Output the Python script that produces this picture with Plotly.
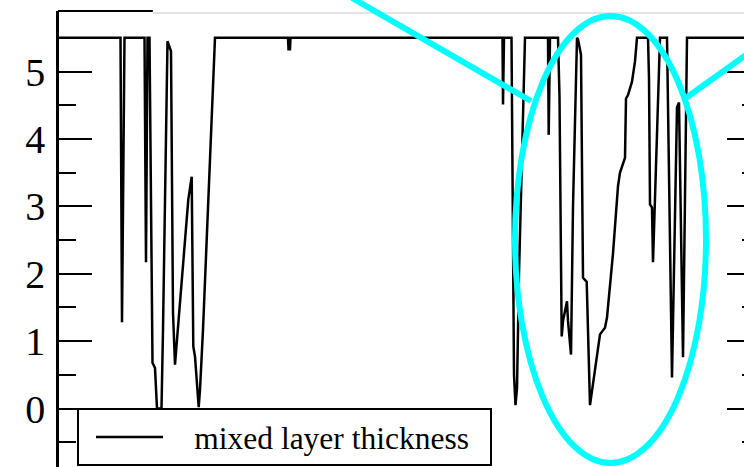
import plotly.graph_objects as go

# Mixed layer thickness record: time index vs. thickness (capped at the 5.5 limit)
time_idx = [0, 61.5, 63, 65.5, 85.5, 87, 88.5, 90.5, 93.5, 96,
            98, 102.5, 104, 108.5, 112, 114, 116, 118, 129.3, 132.7,
            134.3, 136, 139, 139.7, 141, 144, 156, 229, 229.5, 231,
            231.5, 443.5, 444, 445, 452.5, 454, 455, 456.5, 458, 460,
            463, 466, 489, 489.7, 491, 499, 500.5, 502.7, 504, 508,
            509, 512, 514, 518, 519, 522, 524, 527.7, 531, 537.7,
            541, 546, 548, 554, 559, 561, 563, 566, 567, 569,
            573, 576, 578, 589, 590, 591, 593, 594, 601, 608,
            613, 618, 620, 624, 628, 685]
thickness = [5.5, 5.5, 1.28, 5.5, 5.5, 2.17, 5.5, 5.5, 0.68, 0.6,
             0.0, 0.0, 1.17, 5.45, 5.3, 1.42, 0.65, 1.0, 3.1, 3.44,
             0.92, 0.77, 0.18, 0.02, 0.28, 1.17, 5.5, 5.5, 5.33, 5.33,
             5.5, 5.5, 4.51, 5.5, 5.5, 2.0, 0.5, 0.05, 0.3, 2.0,
             4.0, 5.5, 5.5, 4.06, 5.5, 5.5, 4.63, 1.07, 1.3, 1.59,
             1.3, 0.8, 3.0, 5.5, 5.48, 5.25, 1.94, 1.88, 0.05, 0.75,
             1.1, 1.2, 1.35, 2.3, 3.3, 3.5, 3.6, 3.72, 4.6, 4.65,
             4.85, 5.15, 5.5, 5.5, 4.9, 3.03, 2.98, 2.17, 5.5, 5.5,
             0.46, 4.47, 4.54, 0.76, 5.5, 5.5]

y_ticks = [0, 1, 2, 3, 4, 5]
y_range = [-0.868, 5.898]
x_range = [0, 685]
series_name = "mixed layer thickness"

serif = "Liberation Serif, Times New Roman, serif"
cyan = "#00ffff"

fig = go.Figure()
fig.add_trace(go.Scatter(x=time_idx, y=thickness, mode="lines",
                         # wide spaces keep the gap between the key line and its label
                         name="\u2002\u2004" + series_name + "\u2002",
                         line=dict(color="black", width=2.5)))
fig.add_trace(go.Scatter(x=[None], y=[None], yaxis="y2", showlegend=False,
                         hoverinfo="skip"))

fig.update_layout(
    width=744, height=467,
    margin=dict(l=59, r=0, t=11, b=0),
    plot_bgcolor="white", paper_bgcolor="white",
    showlegend=True,
    legend=dict(x=0.0263, y=0.1294, xanchor="left", yanchor="top",
                bgcolor="white", bordercolor="black", borderwidth=2,
                font=dict(family=serif, size=31.5, color="black"),
                itemwidth=67, indentation=12),
    xaxis=dict(range=x_range, visible=False, showgrid=False, zeroline=False),
    yaxis=dict(range=y_range, tickvals=y_ticks, ticks="inside", ticklen=33,
               tickwidth=2, tickcolor="black", showline=True, linewidth=2.5,
               linecolor="black", showgrid=False, zeroline=False,
               ticklabelstandoff=3,
               tickfont=dict(family=serif, size=40, color="black"),
               minor=dict(ticks="inside", ticklen=17, tickwidth=2,
                          tickcolor="black", dtick=0.5, tick0=0, showgrid=False)),
    yaxis2=dict(overlaying="y", side="right", matches="y", range=y_range,
                tickvals=y_ticks, ticks="inside", ticklen=17, tickwidth=2,
                tickcolor="black", showticklabels=False, showline=False,
                showgrid=False, zeroline=False,
                minor=dict(ticks="inside", ticklen=2, tickwidth=2,
                           tickcolor="black", dtick=0.5, tick0=0, showgrid=False)),
)

# frame remnants along the top edge
fig.add_shape(type="line", xref="paper", yref="paper", x0=-0.0015, x1=0.137,
              y0=1.0, y1=1.0, line=dict(color="black", width=2))
fig.add_shape(type="line", xref="paper", yref="paper", x0=0.137, x1=1.0,
              y0=0.9956, y1=0.9956, line=dict(color="#c8c8c8", width=1))

# highlight ellipse and call-out lines
fig.add_shape(type="circle", xref="paper", yref="paper",
              x0=(515 - 59) / 685, x1=(706 - 59) / 685,
              y0=(467 - 463) / 456, y1=(467 - 16) / 456,
              line=dict(color=cyan, width=6))
fig.add_shape(type="line", xref="paper", yref="paper",
              x0=(352 - 59) / 685, y0=(467 + 2) / 456,
              x1=(531 - 59) / 685, y1=(467 - 101) / 456,
              line=dict(color=cyan, width=6))
fig.add_shape(type="line", xref="paper", yref="paper",
              x0=(683 - 59) / 685, y0=(467 - 100) / 456,
              x1=(746 - 59) / 685, y1=(467 - 55) / 456,
              line=dict(color=cyan, width=6))

fig.write_html("out.html")
